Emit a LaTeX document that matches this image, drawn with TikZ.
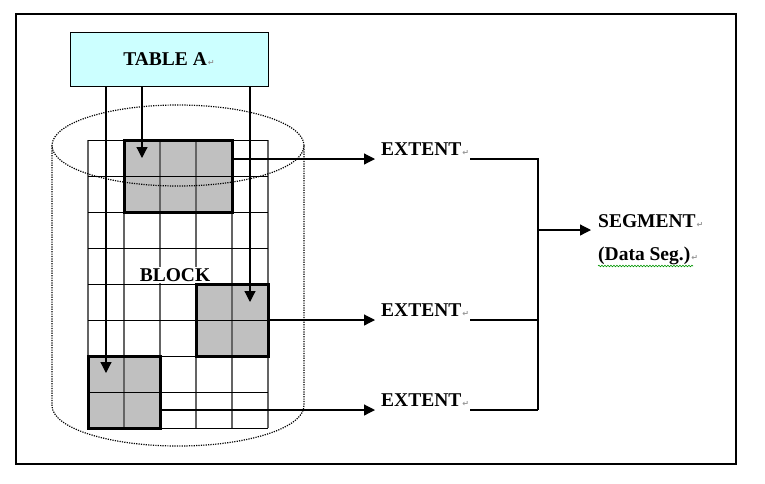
\documentclass[tikz,border=0pt]{standalone}
\usepackage{fontspec}
\setmainfont{Liberation Serif}
\newfontfamily\dejavu{DejaVu Sans}
\usepackage{tikz}
\usetikzlibrary{arrows.meta,decorations.pathmorphing}
\definecolor{tabCyan}{RGB}{204,255,255}
\definecolor{extGray}{RGB}{192,192,192}
\definecolor{gridGray}{RGB}{100,100,100}
\definecolor{retGray}{RGB}{150,150,150}
\definecolor{spellGreen}{RGB}{0,150,0}
\newcommand{\retmark}{{\dejavu\fontsize{8}{8}\selectfont\color{retGray}\kern1pt↵}}

\begin{document}
\begin{tikzpicture}[x=1pt,y=-1pt,
  lbl/.style={font=\fontsize{19.5}{21}\selectfont\bfseries, inner sep=0pt},
  extbox/.style={fill=extGray, inner sep=0pt, outer sep=0pt},
  feed/.style={line width=1.2pt, -{Triangle[length=11pt,width=11pt]}},
  wire/.style={line width=1.1pt},
  gridv/.style={gridGray, line width=1.4pt},
  gridh/.style={black, line width=1pt},
  cyl/.style={black, line width=1.2pt, dash pattern=on 1.2pt off 1.2pt}]
\useasboundingbox (0,0) rectangle (765,483);
\draw[line width=1.2pt] (16,14) rectangle (736,464);

\node[draw, fill=tabCyan, line width=1pt, minimum width=198pt, minimum height=54pt, inner sep=0pt, font=\fontsize{19.5}{21}\selectfont\bfseries] (tabA) at (169,59) {TABLE A\retmark};

\node[extbox, minimum width=108pt, minimum height=72pt] (blkA) at (178,176) {};
\node[extbox, minimum width=72pt, minimum height=72pt] (blkB) at (232,320) {};
\node[extbox, minimum width=72pt, minimum height=72pt] (blkC) at (124,392) {};

\foreach \x in {88,124,...,268} \draw[gridv] (\x,140) -- (\x,428);
\foreach \y in {140,176,...,428} \draw[gridh] (88,\y) -- (268,\y);
\node[lbl, fill=white, inner sep=1pt] (blockLbl) at (175,275) {BLOCK};

\foreach \b in {blkA,blkB,blkC} \draw[line width=3pt] (\b.north west) rectangle (\b.south east);

\draw[cyl] (178,145.5) ellipse [x radius=126pt, y radius=40.5pt];
\draw[cyl] (52,145.5) -- (52,405.5) arc[start angle=180, end angle=360, x radius=126pt, y radius=40.5pt] -- (304,145.5);

\coordinate (inA) at (142,158);
\coordinate (inB) at (250,302);
\coordinate (inC) at (106,373);
\draw[feed] (tabA.south -| inA) -- (inA);
\draw[feed] (tabA.south -| inB) -- (inB);
\draw[feed] (tabA.south -| inC) -- (inC);

\coordinate (tipA) at (375,159);
\coordinate (tipB) at (375,320);
\coordinate (tipC) at (375,410);
\node[lbl, anchor=base west] (extA) at ([xshift=6pt,yshift=4pt]tipA) {EXTENT\retmark};
\node[lbl, anchor=base west] (extB) at ([xshift=6pt,yshift=4pt]tipB) {EXTENT\retmark};
\node[lbl, anchor=base west] (extC) at ([xshift=6pt,yshift=4pt]tipC) {EXTENT\retmark};
\draw[feed] (blkA.east |- tipA) -- (tipA);
\draw[feed] (blkB.east |- tipB) -- (tipB);
\draw[feed] (blkC.east |- tipC) -- (tipC);

\coordinate (busA) at (538,159);
\coordinate (busB) at (538,320);
\coordinate (busC) at (538,410);
\coordinate (busM) at (538,230);
\draw[wire] ([xshift=1pt]extA.east |- tipA) -- (busA) -- (busC);
\draw[wire] ([xshift=1pt]extB.east |- tipB) -- (busB);
\draw[wire] ([xshift=1pt]extC.east |- tipC) -- (busC);

\coordinate (segTip) at (591,230);
\node[lbl, anchor=base west] (seg) at ([xshift=7pt,yshift=3pt]segTip) {SEGMENT\retmark};
\node[lbl, anchor=base west] (dseg) at ([yshift=-33pt]seg.base west) {(Data Seg.)\retmark};
\draw[feed] (busM) -- (segTip);
\draw[spellGreen, line width=0.6pt, decorate, decoration={snake, amplitude=0.8pt, segment length=3pt}] (598,266) -- (693,266);
\end{tikzpicture}
\end{document}
